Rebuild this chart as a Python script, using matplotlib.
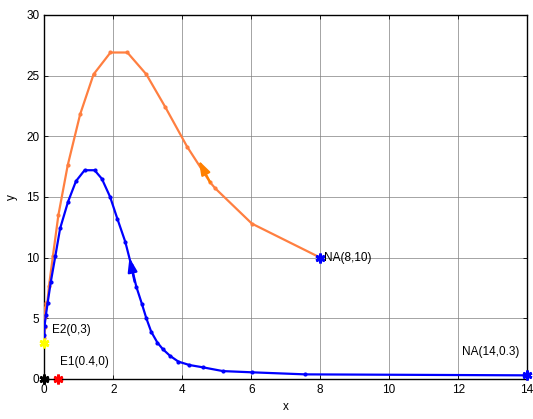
import matplotlib
matplotlib.use("Agg")
import matplotlib.pyplot as plt

plt.rcParams['font.family'] = ['Liberation Sans', 'DejaVu Sans']

# Orange trajectory (from E2 to NA(8,10))
orange_x = [0.0, 0.005, 0.01, 0.02, 0.03, 0.05, 0.09, 0.14, 0.25, 0.41, 0.68, 1.04, 1.43,
            1.92, 2.41, 2.96, 3.51, 4.14, 4.81, 4.96, 6.02, 8.0]
orange_y = [3.0, 3.4, 4.3, 5.1, 5.85, 6.3, 6.3, 7.7, 10.1, 13.5, 17.6, 21.8, 25.1,
            26.9, 26.9, 25.1, 22.4, 19.15, 16.2, 15.7, 12.8, 10.0]

# Blue trajectory (from E2 to NA(14,0.3))
blue_x = [0.0, 0.0, 0.01, 0.05, 0.10, 0.19, 0.32, 0.46, 0.69, 0.92, 1.17, 1.46, 1.67,
          1.91, 2.12, 2.35, 2.52, 2.67, 2.83, 2.96, 3.10, 3.28, 3.44, 3.65, 3.89,
          4.21, 4.60, 5.18, 6.02, 7.57, 14.0]
blue_y = [3.0, 3.6, 4.4, 5.3, 6.3, 8.0, 10.1, 12.4, 14.6, 16.3, 17.2, 17.2, 16.5,
          15.0, 13.2, 11.3, 9.4, 7.6, 6.2, 5.0, 3.9, 3.0, 2.45, 1.9, 1.43,
          1.15, 0.96, 0.65, 0.55, 0.38, 0.3]

# Direction arrows (tail, head)
orange_arrow = [(4.81, 16.2), (4.48, 18.0)]
blue_arrow = [(2.62, 8.0), (2.47, 10.0)]

# Equilibrium / initial points
points = [(0.0, 3.0, '#ffff00'), (0.4, 0.0, '#ff0000'), (0.0, 0.0, '#000000'),
          (8.0, 10.0, '#0000ff'), (14.0, 0.3, '#0000ff')]
labels = [(0.23, 4.0, 'E2(0,3)'), (0.46, 1.4, 'E1(0.4,0)'),
          (8.1, 10.0, 'NA(8,10)'), (12.1, 2.2, 'NA(14,0.3)')]

x_ticks = [0, 2, 4, 6, 8, 10, 12, 14]
y_ticks = [0, 5, 10, 15, 20, 25, 30]

fig = plt.figure(figsize=(5.33, 4.19), dpi=100)
ax = fig.add_axes([0.083, 0.0955, 0.906, 0.869])

orange = '#ff7f40'
blue = '#0000ff'
ax.plot(orange_x, orange_y, '-', color=orange, lw=1.6, marker='.', ms=4, zorder=3)
ax.plot(blue_x, blue_y, '-', color=blue, lw=1.6, marker='.', ms=4, zorder=3)

astyle = '-|>,head_length=0.6,head_width=0.2'
ax.annotate('', xy=orange_arrow[1], xytext=orange_arrow[0],
            arrowprops=dict(arrowstyle=astyle, color='#ff8000', lw=1.6, mutation_scale=14,
                            shrinkA=0, shrinkB=0),
            zorder=4)
ax.annotate('', xy=blue_arrow[1], xytext=blue_arrow[0],
            arrowprops=dict(arrowstyle=astyle, color=blue, lw=1.6, mutation_scale=14,
                            shrinkA=0, shrinkB=0),
            zorder=4)

for px, py, c in points:
    ax.plot([px], [py], marker=(6, 2, 0), color=c, ms=7, mew=2, zorder=5, clip_on=False)

for tx, ty, t in labels:
    ax.text(tx, ty, t, fontsize=8.5, ha='left', va='center', zorder=6)

ax.set_xlim(0, 14)
ax.set_ylim(0, 30)
ax.set_xticks(x_ticks)
ax.set_yticks(y_ticks)
ax.tick_params(direction='in', labelsize=8.5, length=3, width=0.6, top=True, right=True)
ax.grid(True, color='#808080', lw=0.5)
ax.set_axisbelow(True)
for s in ax.spines.values():
    s.set_linewidth(1.0)
ax.set_xlabel('x', fontsize=8.5, labelpad=4)
ax.set_ylabel('y', fontsize=8.5, labelpad=6)

fig.savefig('out.png', dpi=100)
